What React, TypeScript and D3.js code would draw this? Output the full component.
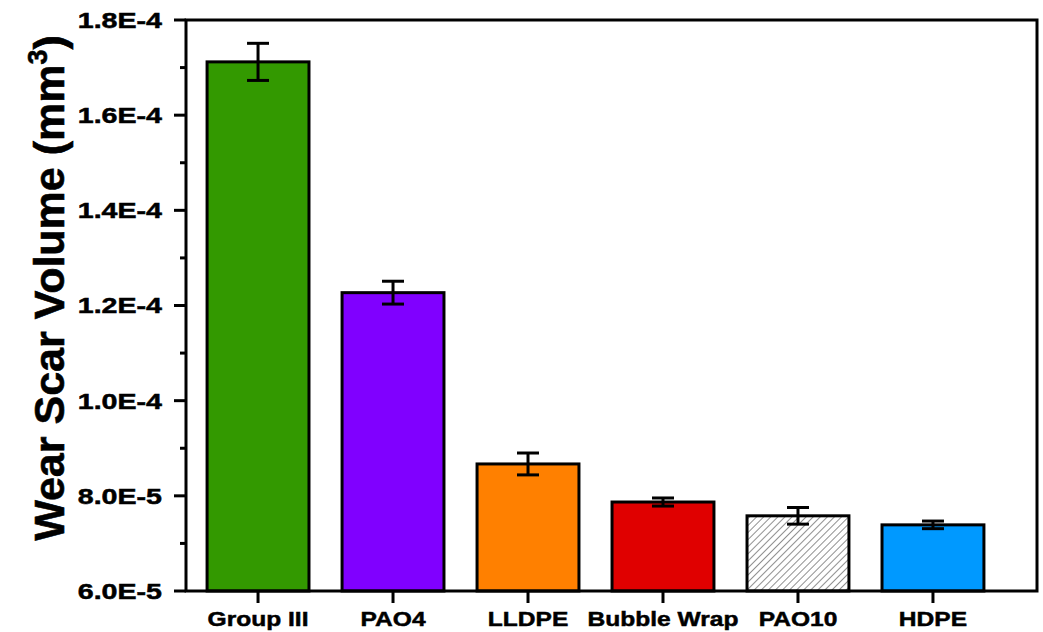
import React from "react";
import * as d3 from "d3";

const categories = ["Group III", "PAO4", "LLDPE", "Bubble Wrap", "PAO10", "HDPE"];
const values = [1.712e-4, 1.227e-4, 8.67e-5, 7.87e-5, 7.58e-5, 7.39e-5];
const errors = [3.9e-6, 2.4e-6, 2.3e-6, 0.85e-6, 1.75e-6, 0.8e-6];
const fills = ["#339900", "#8000FF", "#FF8000", "#E00000", "url(#hatch)", "#0099FF"];
const yTicks = [6e-5, 8e-5, 1.0e-4, 1.2e-4, 1.4e-4, 1.6e-4, 1.8e-4];
const yTickLabels = ["6.0E-5", "8.0E-5", "1.0E-4", "1.2E-4", "1.4E-4", "1.6E-4", "1.8E-4"];
const yMinorTicks = [7e-5, 9e-5, 1.1e-4, 1.3e-4, 1.5e-4, 1.7e-4];

const W = 1043, H = 632;
const plot = { left: 186, right: 1037, top: 20, bottom: 591 };

export default function App() {
  const y = d3.scaleLinear().domain([6e-5, 1.8e-4]).range([plot.bottom, plot.top]);
  const x = d3.scaleBand().domain(categories).range([174, 1017]).padding(0.245);
  const bw = x.bandwidth();
  const font = "Arial, 'Liberation Sans', Helvetica, sans-serif";
  return (
    <svg width={W} height={H} style={{ position: "absolute", left: 0, top: 0, background: "#fff" }}>
      <defs>
        <pattern id="hatch" patternUnits="userSpaceOnUse" width="5" height="5" patternTransform="rotate(45)">
          <rect width="5" height="5" fill="#fff" />
          <line x1="0" y1="0" x2="0" y2="5" stroke="#222" strokeWidth="1" />
        </pattern>
      </defs>
      {categories.map((c, i) => {
        const x0 = x(c)!;
        const cx = x0 + bw / 2;
        return (
          <g key={c}>
            <rect x={x0} y={y(values[i])} width={bw} height={plot.bottom - y(values[i])}
              fill={fills[i]} stroke="#000" strokeWidth={3} />
            <line x1={cx} x2={cx} y1={y(values[i] + errors[i])} y2={y(values[i] - errors[i])} stroke="#000" strokeWidth={3} />
            <line x1={cx - 11} x2={cx + 11} y1={y(values[i] + errors[i])} y2={y(values[i] + errors[i])} stroke="#000" strokeWidth={3} />
            <line x1={cx - 11} x2={cx + 11} y1={y(values[i] - errors[i])} y2={y(values[i] - errors[i])} stroke="#000" strokeWidth={3} />
            <line x1={cx} x2={cx} y1={plot.bottom} y2={plot.bottom + 12} stroke="#000" strokeWidth={3} />
            <text transform={`translate(${cx}, 626) scale(1.17, 1)`} textAnchor="middle" fontFamily={font}
              fontWeight="bold" fontSize={21} fill="#000" stroke="#000" strokeWidth={0.5}>{c}</text>
          </g>
        );
      })}
      <rect x={plot.left} y={plot.top} width={plot.right - plot.left} height={plot.bottom - plot.top}
        fill="none" stroke="#000" strokeWidth={3} />
      {yTicks.map((t, i) => (
        <g key={t}>
          <line x1={plot.left - 12} x2={plot.left} y1={y(t)} y2={y(t)} stroke="#000" strokeWidth={3} />
          <text transform={`translate(162, ${y(t)}) scale(1.3, 1)`} dy="0.36em" textAnchor="end" fontFamily={font}
            fontWeight="bold" fontSize={22} fill="#000" stroke="#000" strokeWidth={0.5}>{yTickLabels[i]}</text>
        </g>
      ))}
      {yMinorTicks.map((t) => (
        <line key={t} x1={plot.left - 6} x2={plot.left} y1={y(t)} y2={y(t)} stroke="#000" strokeWidth={3} />
      ))}
      <text transform={`translate(64, 288) rotate(-90)`} textAnchor="middle"
        fontFamily={font} fontWeight="bold" fontSize={43} fill="#000" stroke="#000" strokeWidth={0.6}>
        Wear Scar Volume (mm<tspan dy="-17" fontSize={27}>3</tspan><tspan dy="17">)</tspan>
      </text>
    </svg>
  );
}
